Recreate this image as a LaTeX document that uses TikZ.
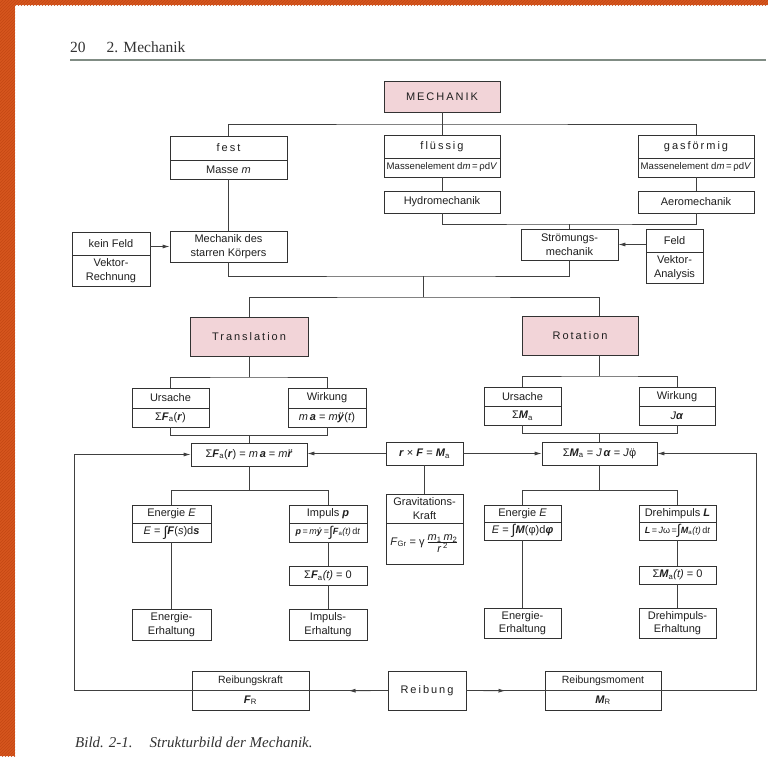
\documentclass[tikz,border=0pt]{standalone}
\usepackage{fontspec}
\setmainfont{Liberation Sans}
\newfontfamily\serifhd{Liberation Serif}
\newfontfamily\spaced[LetterSpace=18]{Liberation Sans}
\usetikzlibrary{arrows.meta,calc,patterns}

\definecolor{pinkfill}{RGB}{242,212,216}
\definecolor{boxline}{RGB}{50,50,50}
\definecolor{orangeframe}{RGB}{214,86,30}
\definecolor{orangestripe}{RGB}{196,72,20}
\definecolor{rulecol}{RGB}{128,140,132}

\newcommand{\vecb}[1]{\textbf{\textit{#1}}}
\newcommand{\intg}{\raisebox{-1.5pt}{\fontsize{14}{14}\selectfont ∫}}
\newcommand{\ddt}[1]{{\accent"A8 #1}}
\newcommand{\dt}[1]{{\accent"2D9 #1}}

\tikzset{
  cell/.style={draw=boxline, line width=0.8pt, fill=white, inner sep=1pt, align=center,
    font=\fontsize{11}{13.5}\selectfont, text=black!88},
  pinkcell/.style={cell, fill=pinkfill},
  smalltxt/.style={font=\fontsize{9.6}{11}\selectfont},
  tinytxt/.style={font=\fontsize{9}{11}\selectfont},
  conn/.style={draw=black!75, line width=0.8pt},
  arr/.style={conn, -{Latex[length=7pt,width=4pt]}},
  bx/.style n args={4}{minimum width={(#2-#1)*1pt}, minimum height={(#4-#3)*1pt},
    at={({(#1+#2)/2},{(#3+#4)/2})}},
}

\begin{document}
\begin{tikzpicture}[x=1pt,y=-1pt]
\useasboundingbox (0,0) rectangle (768,756);
\fill[white] (0,0) rectangle (768,756);
\fill[orangeframe] (0,0) rectangle (15,756);
\fill[orangeframe] (0,0) rectangle (768,5);
\fill[pattern=north east lines, pattern color=orangestripe] (0,0) rectangle (15,756);
\fill[pattern=north east lines, pattern color=orangestripe] (15,0) rectangle (768,5);

% header and caption
\node[font=\serifhd\fontsize{15.5}{16}\selectfont, text=black!80, anchor=base west, inner sep=0] (hdr) at (70,52) {20\hspace{21pt}2. Mechanik};
\draw[rulecol, line width=1.2pt] (70,60) -- (766,60);
\node[font=\serifhd\itshape\fontsize{15}{16}\selectfont, text=black!80, anchor=base west, inner sep=0] (cap) at (75,747) {Bild. 2-1.\hspace{17pt}Strukturbild der Mechanik.};

% top level
\node[pinkcell, bx={384}{500}{81}{112}] (mech) {\spaced MECHANIK};
\node[cell, bx={170}{287}{136}{160}] (festT) {\spaced fest};
\node[cell, bx={170}{287}{160}{179}] (festB) {Masse \textit{m}};
\node[cell, bx={384}{500}{135}{158}] (fluT) {\spaced flüssig};
\node[cell, smalltxt, bx={384}{500}{158}{177}] (fluB) {Massenelement d\textit{m}\,=\,ρd\textit{V}};
\node[cell, bx={638}{754}{135}{158}] (gasT) {\spaced gasförmig};
\node[cell, smalltxt, bx={638}{754}{158}{177}] (gasB) {Massenelement d\textit{m}\,=\,ρd\textit{V}};
\node[cell, bx={384}{500}{191}{213}] (hydro) {Hydromechanik};
\node[cell, bx={638}{754}{191}{213}] (aero) {Aeromechanik};
\node[cell, bx={170}{287}{231}{262}] (starr) {Mechanik des\\starren Körpers};
\node[cell, bx={72}{150}{232}{255}] (keinT) {kein Feld};
\node[cell, bx={72}{150}{255}{286}] (keinB) {Vektor-\\Rechnung};
\node[cell, bx={521}{618}{229}{260}] (strom) {Strömungs-\\mechanik};
\node[cell, bx={646}{703}{229}{252}] (feldT) {Feld};
\node[cell, bx={646}{703}{252}{283}] (feldB) {Vektor-\\Analysis};

% Translation / Rotation
\node[pinkcell, bx={190}{308}{317}{356}] (trans) {\spaced Translation};
\node[pinkcell, bx={522}{638}{316}{355}] (rot) {\spaced Rotation};

\node[cell, bx={132}{209}{388}{408}] (ursT) {Ursache};
\node[cell, bx={132}{209}{408}{427}] (ursB) {Σ\vecb{F}\textsubscript{a}(\vecb{r})};
\node[cell, bx={288}{366}{388}{408}] (wirT) {Wirkung};
\node[cell, bx={288}{366}{408}{427}] (wirB) {\textit{m}\,\vecb{a} = \textit{m}\vecb{ÿ}(\textit{t})};
\node[cell, bx={484}{561}{387}{406}] (ursRT) {Ursache};
\node[cell, bx={484}{561}{406}{425}] (ursRB) {Σ\vecb{M}\textsubscript{a}};
\node[cell, bx={639}{715}{387}{406}] (wirRT) {Wirkung};
\node[cell, bx={639}{715}{406}{425}] (wirRB) {\textit{J}\vecb{α}};

\node[cell, bx={191}{307}{443}{466}] (sumF) {Σ\vecb{F}\textsubscript{a}(\vecb{r}) = \textit{m}\,\vecb{a} = \textit{m}\vecb{\ddt{r}}};
\node[cell, bx={386}{463}{442}{465}] (rxf) {\vecb{r} × \vecb{F} = \vecb{M}\textsubscript{a}};
\node[cell, bx={542}{657}{442}{465}] (sumM) {Σ\vecb{M}\textsubscript{a} = \textit{J}\,\vecb{α} = \textit{J}\ddt{φ}};

% lower part
\node[cell, bx={132}{211}{505}{523}] (enT) {Energie \textit{E}};
\node[cell, bx={132}{211}{523}{542}] (enB) {\textit{E} = \intg\vecb{F}(\textit{s})d\vecb{s}};
\node[cell, bx={289}{367}{505}{523}] (impT) {Impuls \vecb{p}};
\node[cell, tinytxt, bx={289}{367}{523}{542}] (impB) {\vecb{p}\,=\,\textit{m}\vecb{\dt{y}}\,=\intg\vecb{F}\textsubscript{a}\textit{(t)}\,d\textit{t}};
\node[cell, bx={386}{463}{494}{523}] (gravT) {Gravitations-\\Kraft};
\node[cell, bx={386}{463}{523}{564}] (gravB) {\textit{F}\textsubscript{Gr} = γ\,$\frac{\hbox{\textit{m}\textsubscript{1}\,\textit{m}\textsubscript{2}}}{\hbox{\textit{r}\,\textsuperscript{2}}}$};
\node[cell, bx={484}{561}{505}{522}] (enRT) {Energie \textit{E}};
\node[cell, bx={484}{561}{522}{540}] (enRB) {\textit{E} = \intg\vecb{M}(φ)d\vecb{φ}};
\node[cell, bx={639}{716}{505}{522}] (dreT) {Drehimpuls \vecb{L}};
\node[cell, tinytxt, bx={639}{716}{522}{540}] (dreB) {\vecb{L}\,=\,\textit{J}ω\,=\intg\vecb{M}\textsubscript{a}\textit{(t)}\,d\textit{t}};
\node[cell, bx={289}{367}{566}{585}] (sumFt) {Σ\vecb{F}\textsubscript{a}\textit{(t)} = 0};
\node[cell, bx={639}{716}{566}{584}] (sumMt) {Σ\vecb{M}\textsubscript{a}\textit{(t)} = 0};
\node[cell, bx={132}{211}{609}{640}] (enErh) {Energie-\\Erhaltung};
\node[cell, bx={289}{367}{609}{640}] (impErh) {Impuls-\\Erhaltung};
\node[cell, bx={484}{561}{608}{638}] (enRErh) {Energie-\\Erhaltung};
\node[cell, bx={639}{716}{608}{638}] (dreErh) {Drehimpuls-\\Erhaltung};

% friction
\node[cell, font=\fontsize{10.5}{12}\selectfont, bx={192}{309}{671}{690.5}] (rkT) {Reibungskraft};
\node[cell, bx={192}{309}{690.5}{710}] (rkB) {\vecb{F}\textsubscript{R}};
\node[cell, bx={388}{466}{671}{710}] (reib) {\spaced Reibung};
\node[cell, font=\fontsize{10.5}{12}\selectfont, bx={545}{661}{671}{690.5}] (rmT) {Reibungsmoment};
\node[cell, bx={545}{661}{690.5}{710}] (rmB) {\vecb{M}\textsubscript{R}};

% connectors: top
\coordinate (j1) at (442,124);
\draw[conn] (mech.south) -- (j1);
\draw[conn] (festT.north) |- (j1) -| (gasT.north);
\draw[conn] (j1) -- (fluT.north);
\draw[conn] (festB.south) -- (starr.north);
\draw[conn] (fluB.south) -- (hydro.north);
\draw[conn] (gasB.south) -- (aero.north);
\coordinate (j2) at (569.5,224);
\draw[conn] (hydro.south) |- (j2) -| (aero.south);
\draw[conn] (j2) -- (strom.north);
\draw[arr] (keinT.east |- starr.west) -- (starr.west);
\draw[arr] (feldT.west |- strom.east) -- (strom.east);
\coordinate (j3) at (423,276);
\draw[conn] (starr.south) |- (j3) -| (strom.south);
\coordinate (j4) at (423,297);
\draw[conn] (j3) -- (j4);
\draw[conn] (trans.north) |- (j4) -| (rot.north -| sumM.north);

% Translation branch
\coordinate (tl) at (249,377);
\draw[conn] (trans.south) -- (tl);
\draw[conn] (ursT.north) |- (tl) -| (wirT.north);
\coordinate (tl2) at (249,435);
\draw[conn] (ursB.south) |- (tl2) -| (wirB.south);
\draw[conn] (tl2) -- (sumF.north);

% Rotation branch
\coordinate (rl) at (599.5,376);
\draw[conn] (rot.south -| rl) -- (rl);
\draw[conn] (ursRT.north) |- (rl) -| (wirRT.north);
\coordinate (rl2) at (599.5,433);
\draw[conn] (ursRB.south) |- (rl2) -| (wirRB.south);
\draw[conn] (rl2) -- (sumM.north);

\draw[arr] (rxf.west) -- (rxf.west -| sumF.east);
\draw[arr] (rxf.east) -- (rxf.east -| sumM.west);
\draw[conn] (rxf.south) -- (gravT.north);

\coordinate (fl) at (249,490);
\draw[conn] (sumF.south) -- (fl);
\draw[conn] (enT.north) |- (fl) -| (impT.north);
\draw[conn] (enB.south) -- (enErh.north);
\draw[conn] (impB.south) -- (sumFt.north);
\draw[conn] (sumFt.south) -- (impErh.north);
\coordinate (ml) at (599.5,490);
\draw[conn] (sumM.south) -- (ml);
\draw[conn] (enRT.north) |- (ml) -| (dreT.north);
\draw[conn] (enRB.south) -- (enRErh.north);
\draw[conn] (dreB.south) -- (sumMt.north);
\draw[conn] (sumMt.south) -- (dreErh.north);

% friction feedback
\coordinate (cL) at (74,690.5);
\coordinate (cR) at (756,690.5);
\draw[arr] (reib.west) -- (cL) |- (sumF.west);
\draw[arr] (reib.east) -- (cR) |- (sumM.east);
\draw[arr] (reib.west) -- ($(reib.west)!0.5!(rkT.south east)$);
\draw[arr] (reib.east) -- ($(reib.east)!0.5!(rmT.south west)$);
\end{tikzpicture}
\end{document}
